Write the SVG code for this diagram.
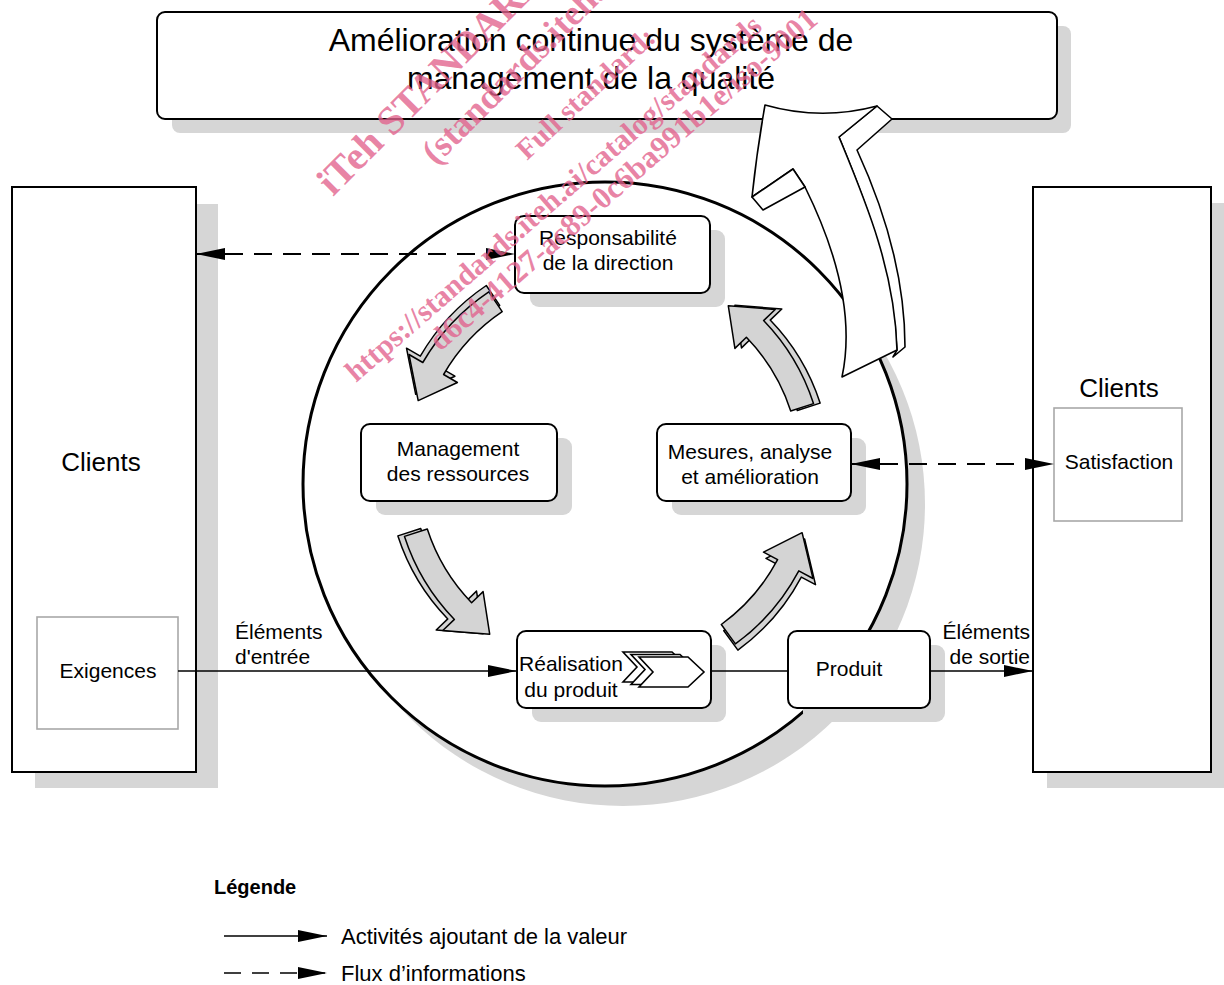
<svg xmlns="http://www.w3.org/2000/svg" width="1224" height="985" viewBox="0 0 1224 985">
<style>
text{font-family:"Liberation Sans",Arial,sans-serif;fill:#000}
.nt{font-size:21px;text-anchor:middle}
.sh{fill:#d6d6d6;stroke:none}
.box{fill:#fff;stroke:#000;stroke-width:2}
.sub{fill:#fff;stroke:#a8a8a8;stroke-width:1.6}
.flow{fill:none;stroke:#000;stroke-width:1.6}
.info{fill:none;stroke:#000;stroke-width:1.8;stroke-dasharray:18 11}
.ga{fill:#d4d4d4;stroke:#000;stroke-width:1.5;stroke-linejoin:round}
.ba{fill:#fff;stroke:#000;stroke-width:1.6;stroke-linejoin:round}
.chev{fill:#fff;stroke:#000;stroke-width:1.6}
.wm{font-family:"Liberation Serif","Times New Roman",serif;font-weight:bold;fill:#e2628d;fill-opacity:0.78}
</style>
<defs>
<marker id="ah" markerUnits="userSpaceOnUse" markerWidth="30" markerHeight="13" refX="29" refY="6.5" orient="auto-start-reverse"><path d="M0,0.5 L29,6.5 L0,12.5 z" fill="#000"/></marker>
<path id="ga1" class="ga" d="M488.8,291.8 A215,215 0 0 0 422.8,362.5 L409,354.5 L418.2,400.6 L457.4,382.5 L443.6,374.5 A191,191 0 0 1 502.2,311.7 Z"/>
<path id="ga2" class="ga" d="M404.5,536.4 A215,215 0 0 0 454.4,619.4 L442.8,630.5 L489.7,634.2 L483.1,591.6 L471.6,602.7 A191,191 0 0 1 427.3,529 Z"/>
<path id="ga3" class="ga" d="M735.4,643.9 A215,215 0 0 0 798.8,570.9 L813,578.5 L802.1,532.7 L763.5,552.2 L777.6,559.7 A191,191 0 0 1 721.3,624.5 Z"/>
<path id="ga4" class="ga" d="M813.5,403.6 A215,215 0 0 0 763.6,320.6 L775.2,309.5 L728.3,305.8 L734.9,348.4 L746.4,337.3 A191,191 0 0 1 790.7,411 Z"/>
</defs>

<rect width="1224" height="985" fill="#fff"/>

<!-- big circle shadow -->
<circle cx="623" cy="504" r="302" class="sh"/>

<g id="clients-left">
<rect x="35" y="204" width="183" height="584" class="sh"/>
<rect x="12" y="187" width="184" height="585" class="box"/>
<text x="101" y="471" font-size="26" text-anchor="middle">Clients</text>
</g>
<g id="exigences">
<rect x="37" y="617" width="141" height="112" class="sub"/>
<text x="108" y="678" font-size="21" text-anchor="middle">Exigences</text>
</g>

<g id="clients-right">
<rect x="1047" y="203" width="190" height="585" class="sh"/>
<rect x="1033" y="187" width="178" height="585" class="box"/>
<text x="1119" y="397" font-size="26" text-anchor="middle">Clients</text>
</g>
<g id="satisfaction">
<rect x="1054" y="408" width="128" height="113" class="sub"/>
<text x="1119" y="469" font-size="21" text-anchor="middle">Satisfaction</text>
</g>

<!-- big circle -->
<circle id="cycle" cx="605" cy="484" r="302" fill="#fff" stroke="#000" stroke-width="3"/>

<g id="title">
<rect x="172" y="26" width="899" height="107" rx="8" class="sh"/>
<rect x="157" y="12" width="900" height="107" rx="8" class="box"/>
<text x="591" y="51" font-size="32" text-anchor="middle">Amélioration continue du système de</text>
<text x="591" y="89" font-size="32" text-anchor="middle">management de la qualité</text>
</g>

<!-- node shadows -->
<g>
<rect x="530" y="230" width="195" height="77" rx="9" class="sh"/>
<rect x="376" y="438" width="196" height="77" rx="9" class="sh"/>
<rect x="672" y="438" width="194" height="77" rx="9" class="sh"/>
<rect x="532" y="645" width="194" height="77" rx="9" class="sh"/>
<rect x="803" y="645" width="142" height="77" rx="9" class="sh"/>
</g>

<g id="connectors">
<path class="info" d="M196,254 H515" marker-start="url(#ah)" marker-end="url(#ah)"/>
<path class="info" d="M851,464 H1054" marker-start="url(#ah)" marker-end="url(#ah)"/>
<path class="flow" d="M178,671 H517" marker-end="url(#ah)"/>
<path class="flow" d="M711,671 H788"/>
<path class="flow" d="M930,671 H1033" marker-end="url(#ah)"/>
<text x="235" y="639" font-size="21">Éléments</text>
<text x="235" y="664" font-size="21">d'entrée</text>
<text x="1030" y="639" font-size="21" text-anchor="end">Éléments</text>
<text x="1030" y="664" font-size="21" text-anchor="end">de sortie</text>
</g>

<g id="responsabilite">
<rect x="515" y="216" width="195" height="77" rx="9" class="box"/>
<text x="608" y="245" class="nt">Responsabilité</text>
<text x="608" y="270" class="nt">de la direction</text>
</g>
<g id="management">
<rect x="361" y="424" width="196" height="77" rx="9" class="box"/>
<text x="458" y="456" class="nt">Management</text>
<text x="458" y="481" class="nt">des ressources</text>
</g>
<g id="mesures">
<rect x="657" y="424" width="194" height="77" rx="9" class="box"/>
<text x="750" y="459" class="nt">Mesures, analyse</text>
<text x="750" y="484" class="nt">et amélioration</text>
</g>
<g id="realisation">
<rect x="517" y="631" width="194" height="77" rx="9" class="box"/>
<path class="chev" transform="translate(-16,-5)" d="M639,657 L688,657 L704,672 L688,687 L639,687 L653,672 Z"/>
<path class="chev" transform="translate(-8,-2.5)" d="M639,657 L688,657 L704,672 L688,687 L639,687 L653,672 Z"/>
<path class="chev" d="M639,657 L688,657 L704,672 L688,687 L639,687 L653,672 Z"/>
<text x="571" y="671" class="nt">Réalisation</text>
<text x="571" y="697" class="nt">du produit</text>
</g>
<g id="produit">
<rect x="788" y="631" width="142" height="77" rx="9" class="box"/>
<text x="849" y="676" class="nt">Produit</text>
</g>

<!-- cycle arrows -->
<g id="cycle-arrows">
<use href="#ga1" transform="translate(-2.5,-6.3)"/><use href="#ga1"/>
<use href="#ga2" transform="translate(-6.6,-0.5)"/><use href="#ga2"/>
<use href="#ga3" transform="translate(2.5,6.2)"/><use href="#ga3"/>
<use href="#ga4" transform="translate(6.6,-0.5)"/><use href="#ga4"/>
</g>

<!-- big improvement arrow -->
<g id="improvement-arrow">
<path class="ba" d="M877,106 L892,119 L857,150 C880,200 905,270 905,347 L893,357 L897,350 C893,270 865,200 839,137 Z"/>
<path class="ba" d="M765,105 Q821,121 877,106 L839,137 C865,200 895,270 897,350 L842,377 C852,330 846,270 805,187 L793,169 L752,197 Q757,150 765,105 Z"/>
<path class="ba" d="M752,197 L793,169 L805,187 L763,210 Z"/>
</g>

<g id="legend">
<text x="214" y="894" font-size="20" font-weight="bold">Légende</text>
<line x1="224" y1="936" x2="327" y2="936" class="flow" marker-end="url(#ah)"/>
<line x1="224" y1="973" x2="327" y2="973" class="flow" stroke-dasharray="17 11" marker-end="url(#ah)"/>
<text x="341" y="944" font-size="22">Activités ajoutant de la valeur</text>
<text x="341" y="981" font-size="22">Flux d’informations</text>
</g>

<g id="watermark">
<text class="wm" font-size="40" transform="translate(333,197) rotate(-45)">iTeh STANDARD PREVIEW</text>
<text class="wm" font-size="36" transform="translate(436,166) rotate(-45)">(standards.iteh.ai)</text>
<text class="wm" font-size="29" transform="translate(527,161) rotate(-43)">Full standard:</text>
<text class="wm" font-size="30" transform="translate(356,383) rotate(-41)">https://standards.iteh.ai/catalog/standards</text>
<text class="wm" font-size="31" transform="translate(440,352) rotate(-41)">d6c4-4127-ac89-0c6ba991b1e/iso-9001</text>
</g>
</svg>
